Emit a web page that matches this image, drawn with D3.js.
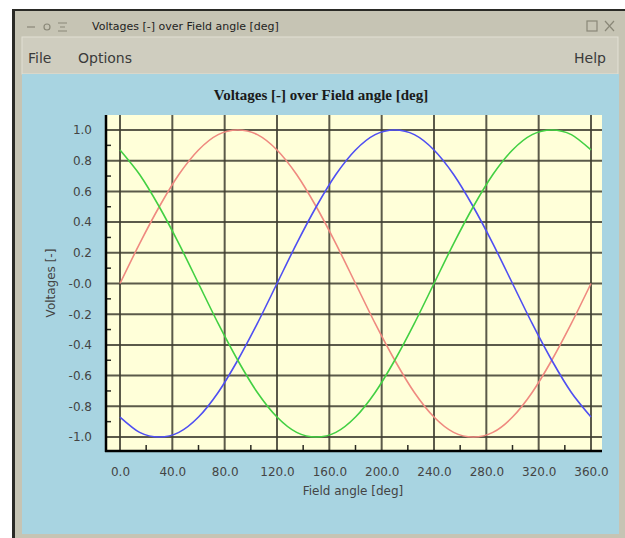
<!DOCTYPE html>
<meta charset="utf-8">
<script src="https://d3js.org/d3.v7.min.js"></script>
<style>
  body { margin: 0; background: #fff; }
  svg { display: block; }
</style>
<div id="chart"></div>
<script>

    // field angle samples (deg) and the three voltages
    var angles = [0, 15, 30, 45, 60, 75, 90, 105, 120, 135, 150, 165, 180,
        195, 210, 225, 240, 255, 270, 285, 300, 315, 330, 345, 360];
    var redValues = [0, 0.26, 0.5, 0.71, 0.87, 0.97, 1, 0.97, 0.87, 0.71, 0.5, 0.26, 0,
        -0.26, -0.5, -0.71, -0.87, -0.97, -1, -0.97, -0.87, -0.71, -0.5, -0.26, 0];
    var blueValues = [-0.87, -0.97, -1, -0.97, -0.87, -0.71, -0.5, -0.26, 0, 0.26, 0.5, 0.71, 0.87,
        0.97, 1, 0.97, 0.87, 0.71, 0.5, 0.26, 0, -0.26, -0.5, -0.71, -0.87];
    var greenValues = [0.87, 0.71, 0.5, 0.26, 0, -0.26, -0.5, -0.71, -0.87, -0.97, -1, -0.97, -0.87,
        -0.71, -0.5, -0.26, 0, 0.26, 0.5, 0.71, 0.87, 0.97, 1, 0.97, 0.87];

    var xTicks = [0, 40, 80, 120, 160, 200, 240, 280, 320, 360];
    var xMinor = [20, 60, 100, 140, 180, 220, 260, 300, 340];
    var yTicks = [1, 0.8, 0.6, 0.4, 0.2, 0, -0.2, -0.4, -0.6, -0.8, -1];
    var yTickLabels = ["1.0", "0.8", "0.6", "0.4", "0.2", "-0.0", "-0.2", "-0.4", "-0.6", "-0.8", "-1.0"];
    var yMinor = [0.9, 0.7, 0.5, 0.3, 0.1, -0.1, -0.3, -0.5, -0.7, -0.9];

    var W = 625, H = 538;
    var plot = { left: 106, right: 602, top: 115, bottom: 451 };

    var svg = d3.select("#chart").append("svg")
        .attr("width", W).attr("height", H);

    // window frame
    svg.append("rect").attr("x", 12).attr("y", 9).attr("width", W - 12).attr("height", H - 9)
        .attr("fill", "#2a2a26");
    svg.append("rect").attr("x", 15).attr("y", 11).attr("width", W - 15).attr("height", H - 11)
        .attr("fill", "#c6c4b4");
    // menu bar
    svg.append("rect").attr("x", 22).attr("y", 37).attr("width", 596).attr("height", 37)
        .attr("fill", "#cfcdbf").attr("stroke", "#e2e0d4").attr("stroke-width", 1);
    // blue panel
    svg.append("rect").attr("x", 22).attr("y", 74).attr("width", 597).attr("height", 460)
        .attr("fill", "#a8d4e1");

    // title bar text and buttons
    svg.append("text").attr("x", 92).attr("y", 30)
        .style("font-family", "DejaVu Sans").style("font-size", "11px").attr("fill", "#1e1e1e")
        .text("Voltages [-] over Field angle [deg]");
    var tb = svg.append("g").attr("stroke", "#8a8878").attr("fill", "none").attr("stroke-width", 1.2);
    tb.append("line").attr("x1", 27).attr("x2", 35).attr("y1", 27).attr("y2", 27);
    tb.append("circle").attr("cx", 47).attr("cy", 27).attr("r", 3);
    tb.append("path").attr("d", "M58,23 H67 M60,27 H65 M58,31 H67");
    tb.append("rect").attr("x", 587).attr("y", 21).attr("width", 10).attr("height", 10);
    tb.append("path").attr("d", "M605,21 L614,31 M614,21 L605,31");

    // menu items
    var menuFont = function (s) {
        return s.style("font-family", "DejaVu Sans").style("font-size", "14px").attr("fill", "#3a3a3a");
    };
    menuFont(svg.append("text").attr("x", 28).attr("y", 63).text("File"));
    menuFont(svg.append("text").attr("x", 78).attr("y", 63).text("Options"));
    menuFont(svg.append("text").attr("x", 606).attr("y", 63).attr("text-anchor", "end").text("Help"));

    // chart title
    svg.append("text").attr("x", 321).attr("y", 100).attr("text-anchor", "middle")
        .style("font-family", "Liberation Serif").style("font-size", "15px").style("font-weight", "bold")
        .attr("fill", "#1a1a1a")
        .text("Voltages [-] over Field angle [deg]");

    // scales
    var x = d3.scaleLinear().domain([0, 360]).range([120, 591]);
    var y = d3.scaleLinear().domain([-1, 1]).range([437, 130]);

    // plot background
    svg.append("rect").attr("x", plot.left).attr("y", plot.top)
        .attr("width", plot.right - plot.left).attr("height", plot.bottom - plot.top)
        .attr("fill", "#ffffd9");

    // grid
    var grid = svg.append("g").attr("stroke", "#3e3d30").attr("stroke-width", 2).attr("stroke-opacity", 0.85);
    grid.selectAll(".h").data(yTicks).join("line")
        .attr("x1", plot.left).attr("x2", plot.right)
        .attr("y1", function (d) { return y(d); }).attr("y2", function (d) { return y(d); });
    grid.selectAll(".v").data(xTicks).join("line")
        .attr("y1", plot.top).attr("y2", plot.bottom)
        .attr("x1", function (d) { return x(d); }).attr("x2", function (d) { return x(d); });

    // minor ticks
    var minor = svg.append("g").attr("stroke", "#2a2a22").attr("stroke-width", 1.5);
    minor.selectAll(".ym").data(yMinor).join("line")
        .attr("x1", plot.left).attr("x2", plot.left + 5)
        .attr("y1", function (d) { return y(d); }).attr("y2", function (d) { return y(d); });
    minor.selectAll(".xm").data(xMinor).join("line")
        .attr("y1", plot.bottom).attr("y2", plot.bottom - 6)
        .attr("x1", function (d) { return x(d); }).attr("x2", function (d) { return x(d); });

    // axes (labels only, lines drawn below)
    var xAxis = svg.append("g")
        .attr("transform", "translate(0," + plot.bottom + ")")
        .call(d3.axisBottom(x).tickValues(xTicks).tickSize(0).tickPadding(16)
            .tickFormat(function (d) { return d3.format(".1f")(d); }));
    var yAxis = svg.append("g")
        .attr("transform", "translate(" + (plot.left - 14) + ",0)")
        .call(d3.axisLeft(y).tickValues(yTicks).tickSize(0).tickPadding(0)
            .tickFormat(function (d, i) { return yTickLabels[i]; }));
    [xAxis, yAxis].forEach(function (a) {
        a.select(".domain").remove();
        a.selectAll("text").style("font-family", "DejaVu Sans").style("font-size", "12px").attr("fill", "#444");
    });

    // axis lines
    svg.append("line").attr("x1", plot.left).attr("x2", plot.left)
        .attr("y1", plot.top).attr("y2", plot.bottom + 1)
        .attr("stroke", "#000").attr("stroke-width", 2.5);
    svg.append("line").attr("x1", plot.left - 1).attr("x2", plot.right)
        .attr("y1", plot.bottom).attr("y2", plot.bottom)
        .attr("stroke", "#000").attr("stroke-width", 2.5);

    // axis titles
    svg.append("text").attr("x", 353).attr("y", 495).attr("text-anchor", "middle")
        .style("font-family", "DejaVu Sans").style("font-size", "12px").attr("fill", "#444")
        .text("Field angle [deg]");
    svg.append("text").attr("transform", "translate(55,283) rotate(-90)").attr("text-anchor", "middle")
        .style("font-family", "DejaVu Sans").style("font-size", "12px").attr("fill", "#444")
        .text("Voltages [-]");

    // curves
    var series = [
        { values: redValues, color: "#ef8a80" },
        { values: blueValues, color: "#4f4ff2" },
        { values: greenValues, color: "#43d043" }
    ];
    var line = d3.line()
        .x(function (d) { return x(d[0]); })
        .y(function (d) { return y(d[1]); })
        .curve(d3.curveCardinal.tension(0.2));
    series.forEach(function (s) {
        svg.append("path")
            .datum(angles.map(function (a, i) { return [a, s.values[i]]; }))
            .attr("fill", "none")
            .attr("stroke", s.color)
            .attr("stroke-width", 1.6)
            .attr("d", line);
    });
</script>
